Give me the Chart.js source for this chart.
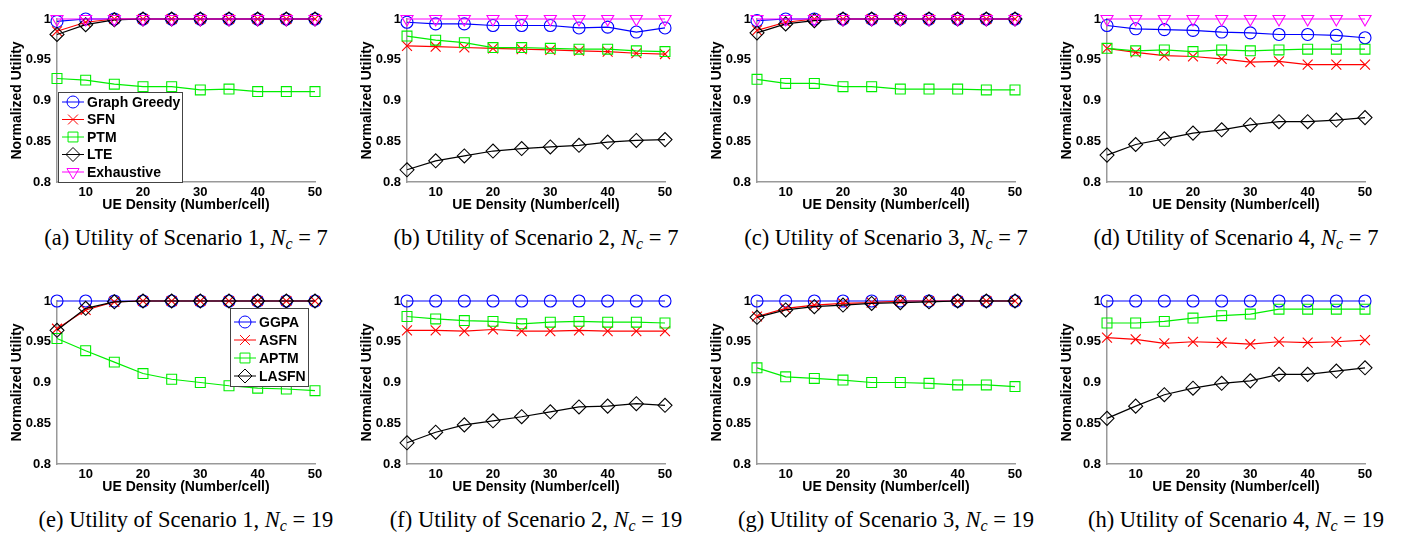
<!DOCTYPE html>
<html>
<head>
<meta charset="utf-8">
<script src="https://cdn.jsdelivr.net/npm/chart.js@4.4.0/dist/chart.umd.min.js"></script>
<style>
  body { margin: 0; background: #fff; width: 1402px; height: 539px; overflow: hidden; position: relative; }
  canvas { position: absolute; }
  .cap { position: absolute; font-family: "Liberation Serif", "Times New Roman", serif; font-size: 22.5px;
         line-height: 24px; text-align: center; white-space: nowrap; color: #000; }
  .cap sub { font-size: 16px; vertical-align: -4px; line-height: 0; }
</style>
</head>
<body>
<script>
// x values and ticks
const density = [5, 10, 15, 20, 25, 30, 35, 40, 45, 50];
const xTickValues = [10, 20, 30, 40, 50];
const yTickValues = [0.8, 0.85, 0.9, 0.95, 1];

const namesNc7 = ["Graph Greedy", "SFN", "PTM", "LTE", "Exhaustive"];
const namesNc19 = ["GGPA", "ASFN", "APTM", "LASFN"];

const captions = [
  ["a", "1", "7"], ["b", "2", "7"], ["c", "3", "7"], ["d", "4", "7"],
  ["e", "1", "19"], ["f", "2", "19"], ["g", "3", "19"], ["h", "4", "19"]
];

// (a) scenario 1, Nc = 7
const aGreedy = [0.997, 1, 1, 1, 1, 1, 1, 1, 1, 1];
const aSFN = [0.985, 0.996, 1, 1, 1, 1, 1, 1, 1, 1];
const aPTM = [0.927, 0.925, 0.92, 0.917, 0.917, 0.913, 0.914, 0.911, 0.911, 0.911];
const aLTE = [0.981, 0.993, 0.999, 1, 1, 1, 1, 1, 1, 1];
const aExhaustive = [1, 1, 1, 1, 1, 1, 1, 1, 1, 1];

// (b) scenario 2, Nc = 7
const bGreedy = [0.996, 0.994, 0.994, 0.992, 0.992, 0.992, 0.989, 0.99, 0.984, 0.989];
const bSFN = [0.967, 0.966, 0.965, 0.964, 0.963, 0.962, 0.961, 0.96, 0.958, 0.957];
const bPTM = [0.979, 0.974, 0.971, 0.965, 0.965, 0.964, 0.963, 0.963, 0.961, 0.96];
const bLTE = [0.815, 0.826, 0.832, 0.838, 0.841, 0.843, 0.845, 0.849, 0.851, 0.852];
const bExhaustive = [1, 1, 1, 1, 1, 1, 1, 1, 1, 1];

// (c) scenario 3, Nc = 7
const cGreedy = [0.998, 1, 1, 1, 1, 1, 1, 1, 1, 1];
const cSFN = [0.986, 0.996, 1, 1, 1, 1, 1, 1, 1, 1];
const cPTM = [0.926, 0.921, 0.921, 0.917, 0.917, 0.914, 0.914, 0.914, 0.913, 0.913];
const cLTE = [0.983, 0.994, 0.998, 1, 1, 1, 1, 1, 1, 1];
const cExhaustive = [1, 1, 1, 1, 1, 1, 1, 1, 1, 1];

// (d) scenario 4, Nc = 7
const dGreedy = [0.992, 0.988, 0.987, 0.986, 0.984, 0.983, 0.981, 0.981, 0.98, 0.977];
const dSFN = [0.964, 0.959, 0.955, 0.954, 0.951, 0.947, 0.948, 0.944, 0.944, 0.944];
const dPTM = [0.964, 0.961, 0.962, 0.96, 0.962, 0.961, 0.962, 0.963, 0.963, 0.963];
const dLTE = [0.833, 0.846, 0.853, 0.86, 0.864, 0.87, 0.874, 0.874, 0.876, 0.879];
const dExhaustive = [1, 1, 1, 1, 1, 1, 1, 1, 1, 1];

// (e) scenario 1, Nc = 19
const eGGPA = [1, 1, 1, 1, 1, 1, 1, 1, 1, 1];
const eASFN = [0.966, 0.989, 0.999, 1, 1, 1, 1, 1, 1, 1];
const eAPTM = [0.954, 0.939, 0.925, 0.911, 0.904, 0.9, 0.896, 0.893, 0.892, 0.89];
const eLASFN = [0.964, 0.991, 0.999, 1, 1, 1, 1, 1, 1, 1];

// (f) scenario 2, Nc = 19
const fGGPA = [1, 1, 1, 1, 1, 1, 1, 1, 1, 1];
const fASFN = [0.964, 0.964, 0.963, 0.965, 0.963, 0.963, 0.964, 0.963, 0.963, 0.963];
const fAPTM = [0.981, 0.978, 0.976, 0.975, 0.972, 0.974, 0.975, 0.974, 0.974, 0.973];
const fLASFN = [0.826, 0.839, 0.848, 0.853, 0.858, 0.864, 0.87, 0.871, 0.874, 0.872];

// (g) scenario 3, Nc = 19
const gGGPA = [1, 1, 1, 1, 1, 1, 1, 1, 1, 1];
const gASFN = [0.981, 0.991, 0.995, 0.997, 0.998, 1, 1, 1, 1, 1];
const gAPTM = [0.918, 0.907, 0.905, 0.903, 0.9, 0.9, 0.899, 0.897, 0.897, 0.895];
const gLASFN = [0.98, 0.989, 0.993, 0.995, 0.997, 0.998, 0.999, 1, 1, 1];

// (h) scenario 4, Nc = 19
const hGGPA = [1, 1, 1, 1, 1, 1, 1, 1, 1, 1];
const hASFN = [0.955, 0.953, 0.948, 0.95, 0.949, 0.947, 0.95, 0.949, 0.95, 0.952];
const hAPTM = [0.973, 0.973, 0.975, 0.979, 0.982, 0.984, 0.99, 0.99, 0.99, 0.99];
const hLASFN = [0.856, 0.871, 0.885, 0.893, 0.899, 0.902, 0.91, 0.91, 0.914, 0.918];

// marker styles, same order as the names
const styleNc7 = [
  { color: "#0000ff", point: "circle", radius: 6, rot: 0 },
  { color: "#ff0000", point: "crossRot", radius: 7, rot: 0 },
  { color: "#00ee00", point: "rect", radius: 7, rot: 0 },
  { color: "#000000", point: "rectRot", radius: 7, rot: 0 },
  { color: "#ff00ff", point: "triangle", radius: 7, rot: 180 }
];
const styleNc19 = styleNc7.slice(0, 4);

const panels = [
  { left: 0, top: 0, names: namesNc7, style: styleNc7, series: [aGreedy, aSFN, aPTM, aLTE, aExhaustive],
    legend: { dx: 1, dy: 73, w: 124, h: 90, first: 10, step: 17.5 } },
  { left: 350, top: 0, names: namesNc7, style: styleNc7, series: [bGreedy, bSFN, bPTM, bLTE, bExhaustive] },
  { left: 700, top: 0, names: namesNc7, style: styleNc7, series: [cGreedy, cSFN, cPTM, cLTE, cExhaustive] },
  { left: 1050, top: 0, names: namesNc7, style: styleNc7, series: [dGreedy, dSFN, dPTM, dLTE, dExhaustive] },
  { left: 0, top: 282, names: namesNc19, style: styleNc19, series: [eGGPA, eASFN, eAPTM, eLASFN],
    legend: { dx: 173, dy: 7, w: 78, h: 78, first: 14, step: 18 } },
  { left: 350, top: 282, names: namesNc19, style: styleNc19, series: [fGGPA, fASFN, fAPTM, fLASFN] },
  { left: 700, top: 282, names: namesNc19, style: styleNc19, series: [gGGPA, gASFN, gAPTM, gLASFN] },
  { left: 1050, top: 282, names: namesNc19, style: styleNc19, series: [hGGPA, hASFN, hAPTM, hLASFN] }
];

const W = 330, H = 215, AXIS_W = 57, AXIS_H = 33;

Chart.defaults.font.family = '"Liberation Sans", Arial, sans-serif';
Chart.defaults.color = "#000";

// boxed legend drawn inside the plot, like the matlab one
const boxLegend = {
  id: "boxLegend",
  afterDatasetsDraw(chart, args, opts) {
    if (!opts.box) return;
    const b = opts.box;
    const ctx = chart.ctx;
    const x = chart.chartArea.left + b.dx;
    const y = chart.chartArea.top + b.dy;
    ctx.save();
    ctx.fillStyle = "#fff";
    ctx.fillRect(x, y, b.w, b.h);
    ctx.strokeStyle = "#444";
    ctx.lineWidth = 1;
    ctx.strokeRect(x + 0.5, y + 0.5, b.w, b.h);
    ctx.font = 'bold 14px "Liberation Sans", Arial, sans-serif';
    ctx.textBaseline = "middle";
    chart.data.datasets.forEach((ds, i) => {
      const cy = y + b.first + i * b.step;
      ctx.strokeStyle = ds.borderColor;
      ctx.lineWidth = 1;
      ctx.beginPath();
      ctx.moveTo(x + 4, cy);
      ctx.lineTo(x + 26, cy);
      ctx.stroke();
      ctx.fillStyle = "rgba(0,0,0,0)";
      Chart.helpers.drawPoint(ctx, {
        pointStyle: ds.pointStyle, rotation: ds.pointRotation,
        radius: ds.pointRadius, borderWidth: 1
      }, x + 15, cy);
      ctx.fillStyle = "#000";
      ctx.fillText(ds.label, x + 29, cy + 1);
    });
    ctx.restore();
  }
};

panels.forEach((p, k) => {
  const cv = document.createElement("canvas");
  cv.width = W;
  cv.height = H;
  cv.style.left = p.left + "px";
  cv.style.top = p.top + "px";
  document.body.appendChild(cv);

  const n = p.series.length;
  const datasets = p.series.map((vals, i) => ({
    label: p.names[i],
    data: vals.map((v, j) => ({ x: density[j], y: v })),
    borderColor: p.style[i].color,
    borderWidth: 1.2,
    pointStyle: p.style[i].point,
    pointRadius: p.style[i].radius,
    pointRotation: p.style[i].rot,
    pointBorderColor: p.style[i].color,
    pointBackgroundColor: "rgba(0,0,0,0)",
    pointBorderWidth: 1.1,
    tension: 0,
    clip: false,
    order: n - i
  }));

  new Chart(cv.getContext("2d"), {
    type: "line",
    data: { datasets: datasets },
    plugins: [boxLegend],
    options: {
      responsive: false,
      animation: false,
      layout: { padding: { top: 19, right: 15, left: 0, bottom: 0 } },
      plugins: {
        legend: { display: false },
        tooltip: { enabled: false },
        boxLegend: { box: p.legend || null }
      },
      scales: {
        x: {
          type: "linear",
          min: 5,
          max: 50,
          grid: { display: false, drawTicks: false },
          border: { color: "#999", width: 1.5 },
          afterBuildTicks: s => { s.ticks = xTickValues.map(v => ({ value: v })); },
          afterFit: s => { s.height = AXIS_H; },
          ticks: { font: { size: 13, weight: "bold" }, padding: 3, maxRotation: 0 },
          title: {
            display: true, text: "UE Density (Number/cell)",
            font: { size: 14, weight: "bold" }, padding: { top: 0, bottom: 1 }
          }
        },
        y: {
          min: 0.8,
          max: 1,
          grid: { display: false, drawTicks: false },
          border: { color: "#999", width: 1.5 },
          afterBuildTicks: s => { s.ticks = yTickValues.map(v => ({ value: v })); },
          afterFit: s => { s.width = AXIS_W; },
          ticks: {
            font: { size: 13, weight: "bold" }, padding: 6,
            callback: v => String(Math.round(v * 100) / 100)
          },
          title: {
            display: true, text: "Normalized Utility",
            font: { size: 14, weight: "bold" }, padding: { top: 9, bottom: 0 }
          }
        }
      }
    }
  });

  const c = captions[k];
  const cap = document.createElement("div");
  cap.className = "cap";
  cap.style.left = (p.left + AXIS_W - 40) + "px";
  cap.style.width = (W - AXIS_W - 15 + 80) + "px";
  cap.style.top = (p.top + 226) + "px";
  cap.innerHTML = "(" + c[0] + ") Utility of Scenario " + c[1] + ", <i>N<sub>c</sub></i> = " + c[2];
  document.body.appendChild(cap);
});
</script>
</body>
</html>
